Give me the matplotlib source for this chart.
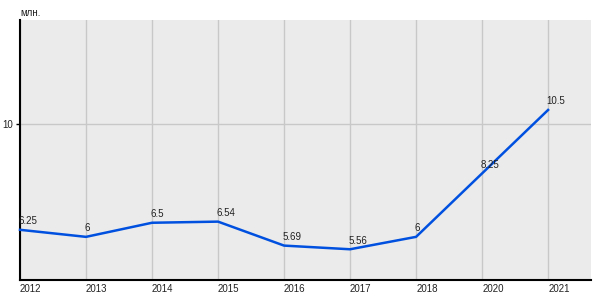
import matplotlib.pyplot as plt

plt.rcParams['font.family'] = ['Liberation Sans', 'DejaVu Sans']

years = ['2012', '2013', '2014', '2015', '2016', '2017', '2018', '2020', '2021']
values = [6.25, 6, 6.5, 6.54, 5.69, 5.56, 6, 8.25, 10.5]
value_labels = ['6.25', '6', '6.5', '6.54', '5.69', '5.56', '6', '8.25', '10.5']

fig = plt.figure(figsize=(6, 3), dpi=100)
ax = fig.add_axes([20 / 600, 20 / 300, 571 / 600, 260 / 300])
ax.set_facecolor('#ebebeb')

x = list(range(len(years)))
ax.plot(x, values, color='#0050e0', linewidth=1.8, zorder=3, clip_on=False)

for xi, v, lab in zip(x, values, value_labels):
    ax.annotate(lab, (xi, v), xytext=(-1, 2.5), textcoords='offset points',
                ha='left', va='bottom', fontsize=7, color='#222222')

ax.set_xlim(0, 8.65)
ax.set_ylim(4.47, 13.69)
ax.set_xticks(x)
ax.set_xticklabels(years, ha='left')
ax.set_yticks([10])
ax.set_yticklabels(['10'])
ax.tick_params(axis='x', length=0, pad=3, labelsize=7, colors='#222222')
ax.tick_params(axis='y', length=3, width=1, pad=2, labelsize=7, colors='#222222')
ax.tick_params(axis='y', color='black')

ax.grid(True, color='#c8c8c8', linewidth=1)
ax.set_axisbelow(True)
for side in ['top', 'right']:
    ax.spines[side].set_visible(False)
for side in ['left', 'bottom']:
    ax.spines[side].set_linewidth(1.5)
    ax.spines[side].set_color('black')

fig.text(20 / 600, 1 - 13 / 300, 'млн.', fontsize=7, color='#222222',
         ha='left', va='center')

plt.savefig('out.png', dpi=100)
